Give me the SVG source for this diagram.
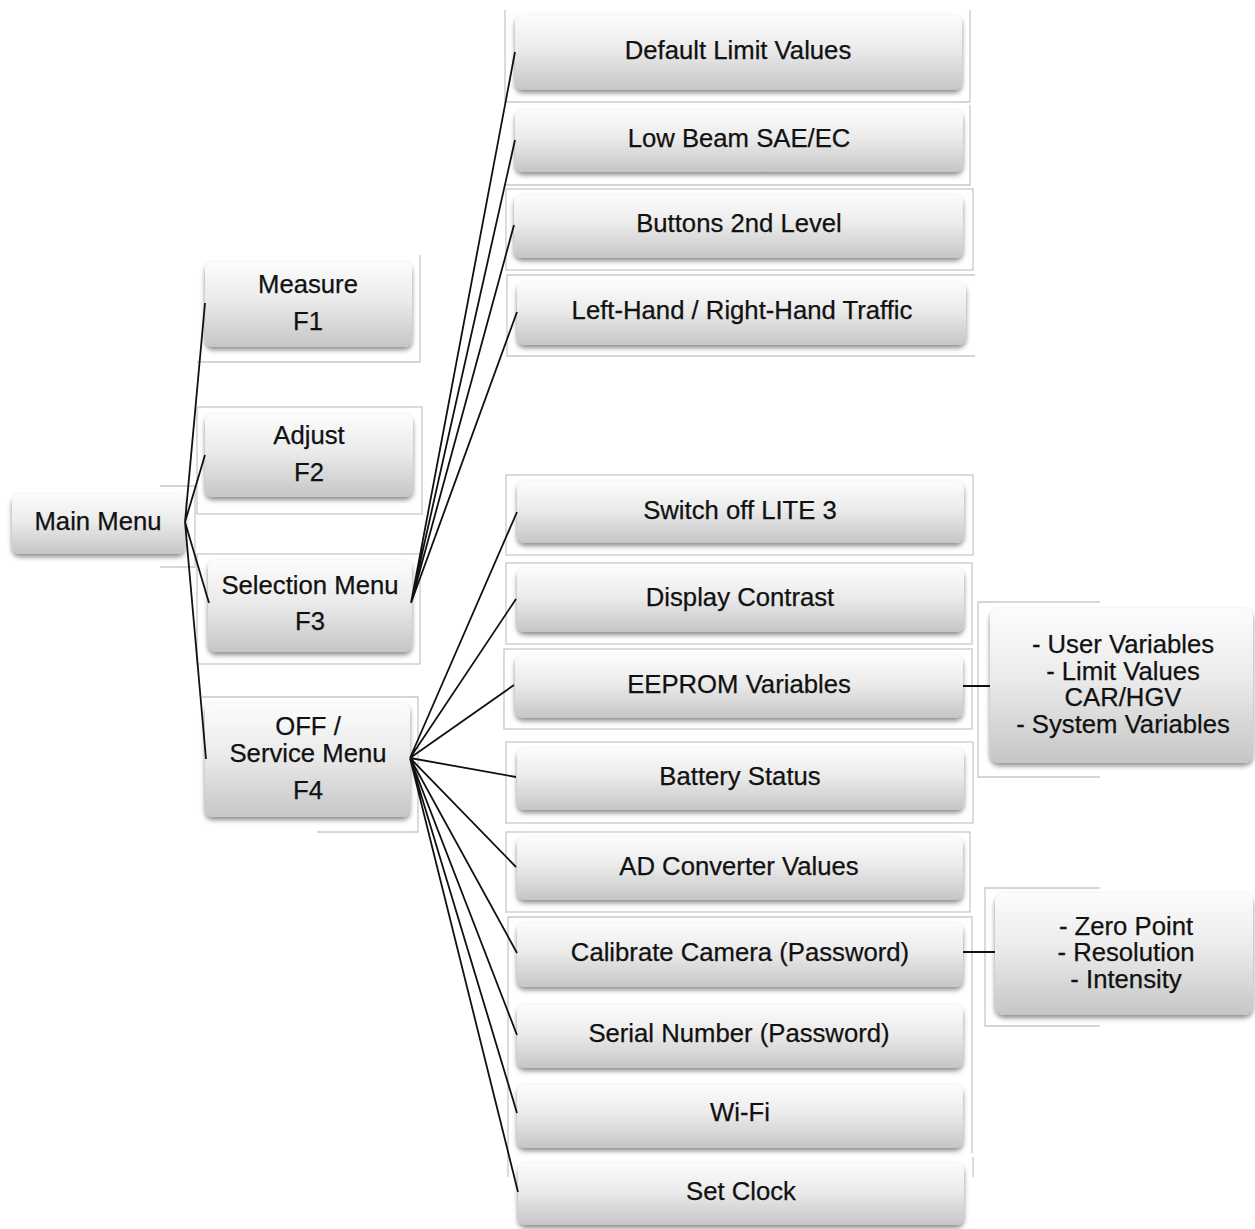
<svg xmlns="http://www.w3.org/2000/svg" width="1255" height="1229" viewBox="0 0 1255 1229">
<defs>
<linearGradient id="g" x1="0" y1="0" x2="0" y2="1">
<stop offset="0" stop-color="#fcfcfc"/>
<stop offset="0.45" stop-color="#ebebeb"/>
<stop offset="1" stop-color="#c6c6c6"/>
</linearGradient>
<filter id="sh" x="-10%" y="-20%" width="120%" height="150%">
<feDropShadow dx="0" dy="3" stdDeviation="2.5" flood-color="#000" flood-opacity="0.45"/>
</filter>
</defs>
<style>
.box{fill:url(#g);filter:url(#sh);}
.fr{fill:none;stroke:#c9c9c9;stroke-width:1.3;}
.t{font-family:"Liberation Sans",Arial,sans-serif;font-size:25.7px;fill:#111;text-anchor:middle;stroke:#111;stroke-width:0.25;}
.c{stroke:#111;stroke-width:1.8;fill:none;}
</style>
<rect width="1255" height="1229" fill="#fff"/>

<g id="main-menu">
<path class="fr" d="M160 486H195V567H160"/>
<rect class="box" x="12" y="494" width="173" height="60" rx="8"/>
<text class="t" x="98" y="530">Main Menu</text>
</g>

<g id="measure">
<path class="fr" d="M420 255V362H197"/>
<rect class="box" x="205" y="262" width="207" height="85" rx="8"/>
<text class="t" x="308" y="293">Measure</text>
<text class="t" x="308" y="330">F1</text>
</g>

<g id="adjust">
<rect class="fr" x="197" y="407" width="225" height="107"/>
<rect class="box" x="205" y="414" width="208" height="83" rx="8"/>
<text class="t" x="309" y="444">Adjust</text>
<text class="t" x="309" y="481">F2</text>
</g>

<g id="selection-menu">
<rect class="fr" x="197" y="554" width="223" height="110"/>
<rect class="box" x="208" y="560" width="204" height="92" rx="8"/>
<text class="t" x="310" y="594">Selection Menu</text>
<text class="t" x="310" y="630">F3</text>
</g>

<g id="service-menu">
<path class="fr" d="M202 697H418V832H317"/>
<rect class="box" x="205" y="703" width="205" height="114" rx="8"/>
<text class="t" x="308" y="735">OFF /</text>
<text class="t" x="308" y="762">Service Menu</text>
<text class="t" x="308" y="799">F4</text>
</g>

<g id="default-limit-values">
<path class="fr" d="M505 10V102H970V10"/>
<rect class="box" x="515" y="15" width="447" height="75" rx="8"/>
<text class="t" x="738" y="59">Default Limit Values</text>
</g>

<g id="low-beam">
<path class="fr" d="M970 105V185H505"/>
<rect class="box" x="515" y="110" width="448" height="62" rx="8"/>
<text class="t" x="739" y="147">Low Beam SAE/EC</text>
</g>

<g id="buttons-2nd-level">
<rect class="fr" x="506" y="189" width="467" height="81"/>
<rect class="box" x="514" y="195" width="449" height="63" rx="8"/>
<text class="t" x="739" y="232">Buttons 2nd Level</text>
</g>

<g id="traffic">
<path class="fr" d="M975 275H507V356H975"/>
<rect class="box" x="517" y="282" width="449" height="63" rx="8"/>
<text class="t" x="742" y="319">Left-Hand / Right-Hand Traffic</text>
</g>

<g id="switch-off">
<rect class="fr" x="506" y="475" width="467" height="80"/>
<rect class="box" x="517" y="481" width="447" height="62" rx="8"/>
<text class="t" x="740" y="519">Switch off LITE 3</text>
</g>

<g id="display-contrast">
<rect class="fr" x="506" y="563" width="466" height="81"/>
<rect class="box" x="517" y="568" width="447" height="64" rx="8"/>
<text class="t" x="740" y="606">Display Contrast</text>
</g>

<g id="eeprom-variables">
<rect class="fr" x="504" y="649" width="468" height="80"/>
<rect class="box" x="515" y="655" width="448" height="63" rx="8"/>
<text class="t" x="739" y="693">EEPROM Variables</text>
</g>

<g id="eeprom-details">
<path class="fr" d="M1100 602H978V777H1100"/>
<rect class="box" x="990" y="608" width="263" height="155" rx="9"/>
<text class="t" x="1123" y="653">- User Variables</text>
<text class="t" x="1123" y="680">- Limit Values</text>
<text class="t" x="1123" y="706">CAR/HGV</text>
<text class="t" x="1123" y="733">- System Variables</text>
</g>

<g id="battery-status">
<rect class="fr" x="506" y="742" width="467" height="81"/>
<rect class="box" x="517" y="748" width="447" height="62" rx="8"/>
<text class="t" x="740" y="785">Battery Status</text>
</g>

<g id="ad-converter">
<rect class="fr" x="506" y="832" width="464" height="80"/>
<rect class="box" x="517" y="837" width="446" height="63" rx="8"/>
<text class="t" x="739" y="875">AD Converter Values</text>
</g>

<g id="calibrate-camera">
<path class="fr" d="M508 1177V917H972V1153"/>
<rect class="box" x="517" y="923" width="446" height="64" rx="8"/>
<text class="t" x="740" y="961">Calibrate Camera (Password)</text>
</g>

<g id="calibrate-details">
<path class="fr" d="M1100 888H985V1026H1100"/>
<rect class="box" x="995" y="893" width="258" height="122" rx="9"/>
<text class="t" x="1126" y="935">- Zero Point</text>
<text class="t" x="1126" y="961">- Resolution</text>
<text class="t" x="1126" y="988">- Intensity</text>
</g>

<g id="serial-number">
<rect class="box" x="517" y="1005" width="446" height="63" rx="8"/>
<text class="t" x="739" y="1042">Serial Number (Password)</text>
</g>

<g id="wifi">
<rect class="box" x="517" y="1085" width="446" height="63" rx="8"/>
<text class="t" x="740" y="1121">Wi-Fi</text>
</g>

<g id="set-clock">
<path class="fr" d="M973 1157V1177"/>
<rect class="box" x="518" y="1163" width="446" height="62" rx="8"/>
<text class="t" x="741" y="1200">Set Clock</text>
</g>

<g id="connectors">
<path class="c" d="M185 522L205 303M185 522L205 455M185 522L209 603M185 522L206 759"/>
<path class="c" d="M411 603L515 52M411 603L515 140M411 603L514 225M411 603L517 312"/>
<path class="c" d="M410 758L517 512M410 758L516 599M410 758L514 685M410 758L516 777M410 758L516 867M410 758L517 953M410 758L517 1035M410 758L517 1113M410 758L518 1192"/>
<path class="c" d="M963 686L990 686M963 952L995 952"/>
</g>
</svg>
